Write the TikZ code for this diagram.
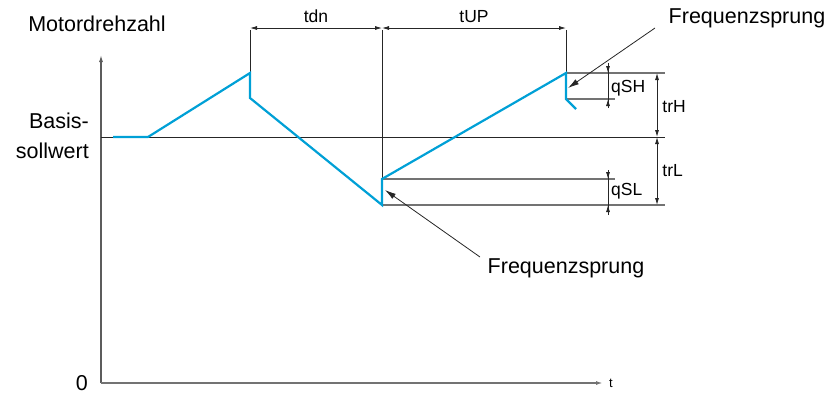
\documentclass[tikz,border=0pt]{standalone}
\usepackage{fontspec}
\setmainfont{Liberation Sans}
\usetikzlibrary{arrows.meta,positioning}
\definecolor{speed}{RGB}{0,160,214}
\definecolor{guide}{gray}{0.45}

\begin{document}
\begin{tikzpicture}[x=1pt,y=-1pt,>={Latex[length=7pt,width=4pt]},
big/.style={font=\fontsize{21.5}{24}\selectfont,inner sep=0pt},
small/.style={font=\fontsize{17.5}{19}\selectfont,inner sep=0pt},
curve/.style={draw=speed,line width=2.2pt,line join=miter},
level/.style={draw=guide,line width=1.1pt},
thin/.style={draw=black!85,line width=0.8pt},
dim/.style={thin,<->},
pointer/.style={thin,->,>={Latex[length=11pt,width=6pt]}}]
\useasboundingbox (0,0) rectangle (834,394);
% axes
\coordinate (o) at (101,383);
\coordinate (ytop) at (101,55);
\coordinate (xend) at (603,383);
\draw[->,line width=1.2pt,draw=guide!80!black] (o) -- (ytop);
\draw[->,line width=1.4pt,draw=guide] (o) -- (xend);
\node[font=\fontsize{13}{15}\selectfont,inner sep=0pt,right=6pt of xend] (t) {t};
\node[big,left=13pt of o] (zero) {0};
\node[big] (speedlbl) at (97,24) {Motordrehzahl};
\node[big,font=\fontsize{21.5}{30}\selectfont,align=right,anchor=east] (setpoint) at (89,136) {Basis-\\sollwert};
% base setpoint
\coordinate (b0) at (101,137);
\coordinate (b1) at (665,137);
\draw[thin] (b0) -- (b1);
% curve corners
\coordinate (p0) at (113,137);
\coordinate (p1) at (148,137);
\coordinate (p2) at (250,73);
\coordinate (p3) at (250,98);
\coordinate (p4) at (382,205);
\coordinate (p5) at (382,179);
\coordinate (p6) at (566,73);
\coordinate (p7) at (566,99);
\coordinate (p8) at (576,109);
% time marks
\coordinate (m1) at (250,30);
\coordinate (m2) at (382,30);
\coordinate (m3) at (566,30);
\draw[thin] (m1) -- (p2);
\draw[thin] (m2) -- (p4);
\draw[thin] (m3) -- (p6);
\draw[dim] ([yshift=2pt]m1) -- node[small,above=5pt] (tdn) {tdn} ([yshift=2pt]m2);
\draw[dim] ([yshift=2pt]m2) -- node[small,above=5pt] (tup) {tUP} ([yshift=2pt]m3);
% hysteresis levels
\coordinate (h1) at (665,73);
\coordinate (h2) at (615,99);
\coordinate (l1) at (615,179);
\coordinate (l2) at (665,205);
\draw[level] (p6) -- (h1);
\draw[level] (p7) -- (h2);
\draw[level] (p5) -- (l1);
\draw[level] (p4) -- (l2);
\draw[curve] (p0) -- (p1) -- (p2) -- (p3) -- (p4) -- (p5) -- (p6) -- (p7) -- (p8);
% band heights
\draw[dim] (657,73) -- node[small,anchor=west,xshift=5pt,yshift=-2pt] (trh) {trH} (657,137);
\draw[dim] (657,137) -- node[small,anchor=west,xshift=5pt] (trl) {trL} (657,205);
\coordinate (sh0) at (608,63);
\coordinate (sh1) at (608,108);
\coordinate (sl0) at (608,170);
\coordinate (sl1) at (608,215);
\draw[thin] (sh0) -- (sh1);
\draw[thin,->] (sh0) -- (608,73);
\draw[thin,->] (sh1) -- (608,99);
\node[small,anchor=west] (qsh) at (611,88) {qSH};
\draw[thin] (sl0) -- (sl1);
\draw[thin,->] (sl0) -- (608,179);
\draw[thin,->] (sl1) -- (608,205);
\node[small,anchor=west] (qsl) at (611,191) {qSL};
% jump labels
\node[big] (jumptop) at (747,18) {Frequenzsprung};
\node[big] (jumpbot) at (566,268) {Frequenzsprung};
\coordinate (jt) at (655,28);
\coordinate (jb) at (480,257);
\draw[pointer] (jt) -- (568,88);
\draw[pointer] (jb) -- (385,190);
\end{tikzpicture}
\end{document}
